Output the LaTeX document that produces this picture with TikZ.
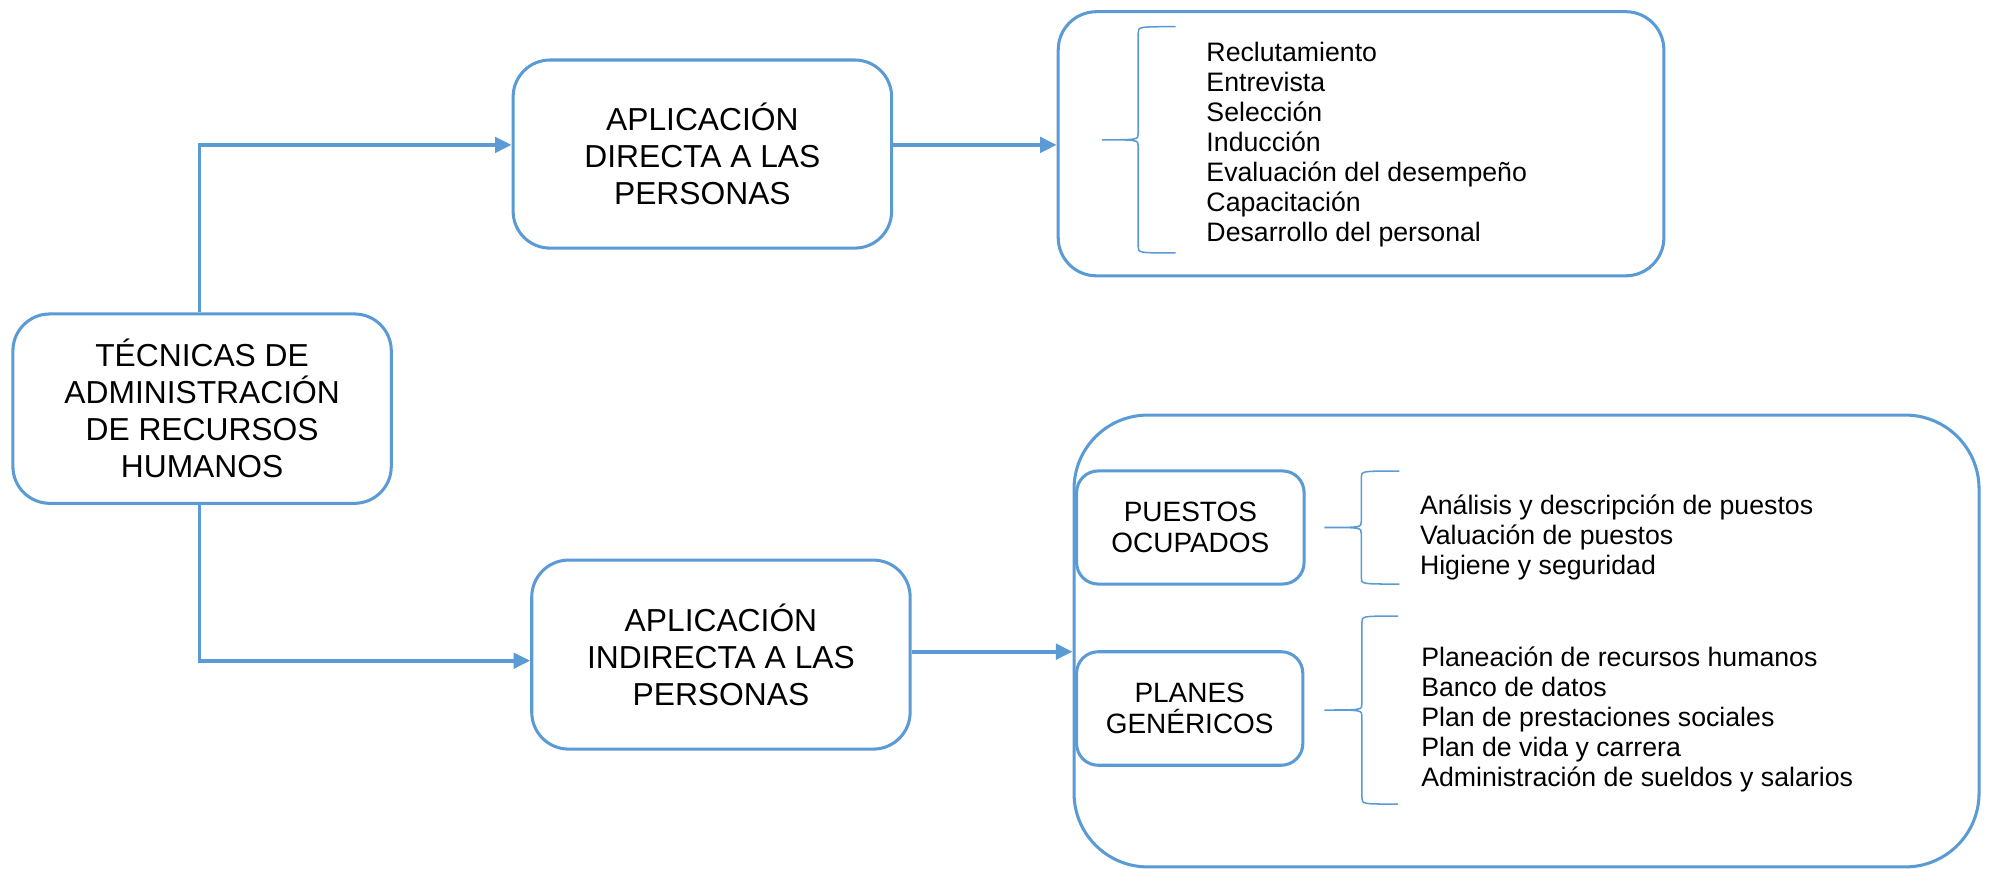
\documentclass[tikz,border=0pt]{standalone}
\usepackage{fontspec}
\setmainfont{Liberation Sans}
\usetikzlibrary{arrows.meta}
\definecolor{bl}{RGB}{91,155,213}
\begin{document}
\begin{tikzpicture}[x=1pt,y=-1pt,
  box/.style={draw=bl, line width=2.4pt, rounded corners=29pt, fill=white,
    align=center, inner sep=0pt, font=\fontsize{25}{29}\selectfont},
  smallbox/.style={draw=bl, line width=2.4pt, rounded corners=17pt, fill=white,
    align=center, inner sep=0pt, font=\fontsize{22}{24.5}\selectfont},
  conn/.style={draw=bl, line width=3pt, -{Triangle[length=13pt,width=12pt]}},
  brc/.style={draw=bl, line width=1.2pt},
  listtxt/.style={anchor=base west, inner sep=0pt, font=\fontsize{21}{24}\selectfont}]
\useasboundingbox (0,0) rectangle (1568,683);

% boxes
\node[box, minimum width=297.7pt, minimum height=149pt] (main) at (159,321.5)
  {TÉCNICAS DE\\ADMINISTRACIÓN\\DE RECURSOS\\HUMANOS};
\node[box, minimum width=297.8pt, minimum height=148pt] (direct) at (552.6,121.2)
  {APLICACIÓN\\DIRECTA A LAS\\PERSONAS};
\node[box, minimum width=297.7pt, minimum height=148.7pt] (indirect) at (567.2,515)
  {APLICACIÓN\\INDIRECTA A LAS\\PERSONAS};
\node[box, rounded corners=30pt, minimum width=476.5pt, minimum height=207.8pt] (topright) at (1070.8,113.1) {};
\node[box, rounded corners=58pt, minimum width=712pt, minimum height=355.5pt] (big) at (1201,504.3) {};
\node[smallbox, minimum width=179pt, minimum height=89pt] (puestos) at (936.5,415)
  {PUESTOS\\OCUPADOS};
\node[smallbox, minimum width=178pt, minimum height=89.3pt] (planes) at (936,557.4)
  {PLANES\\GENÉRICOS};

% connectors
\coordinate (m1) at ([xshift=-2pt]main.north);
\coordinate (m2) at ([xshift=-2pt]main.south);
\coordinate (dIn) at ([yshift=7.2pt]direct.west);
\coordinate (iIn) at ([yshift=-4.8pt]indirect.west);
\coordinate (dOut) at ([yshift=7.2pt]direct.east);
\coordinate (iOut) at ([yshift=2.3pt]indirect.east);
\draw[conn] (m1) |- (dIn);
\draw[conn] (m2) |- (iIn);
\draw[conn] (dOut) -- (dOut -| topright.west);
\draw[conn] (iOut) -- (iOut -| big.west);

% braces
\draw[brc] (925,21) .. controls (895.5,21) .. (895.5,26) -- (895.5,105)
  .. controls (895.5,110) .. (866.8,110) .. controls (895.5,110) .. (895.5,115)
  -- (895.5,194) .. controls (895.5,199) .. (925,199);
\draw[brc] (1101,370.6) .. controls (1071,370.6) .. (1071,375.6) -- (1071,410)
  .. controls (1071,415) .. (1042,415) .. controls (1071,415) .. (1071,420)
  -- (1071,454.5) .. controls (1071,459.5) .. (1101,459.5);
\draw[brc] (1100,484.7) .. controls (1071.5,484.7) .. (1071.5,489.7) -- (1071.5,553.6)
  .. controls (1071.5,558.6) .. (1042,558.6) .. controls (1071.5,558.6) .. (1071.5,563.6)
  -- (1071.5,627.6) .. controls (1071.5,632.6) .. (1100,632.6);

% lists
\foreach \t [count=\i] in {Reclutamiento,Entrevista,Selección,Inducción,Evaluación del desempeño,Capacitación,Desarrollo del personal}
  \node[listtxt] (la\i) at (949,{48+23.7*(\i-1)}) {\t};
\foreach \t [count=\i] in {Análisis y descripción de puestos,Valuación de puestos,Higiene y seguridad}
  \node[listtxt] (lb\i) at (1117,{404.5+23.6*(\i-1)}) {\t};
\foreach \t [count=\i] in {Planeación de recursos humanos,Banco de datos,Plan de prestaciones sociales,Plan de vida y carrera,Administración de sueldos y salarios}
  \node[listtxt] (lc\i) at (1118,{524+23.75*(\i-1)}) {\t};
\end{tikzpicture}
\end{document}
